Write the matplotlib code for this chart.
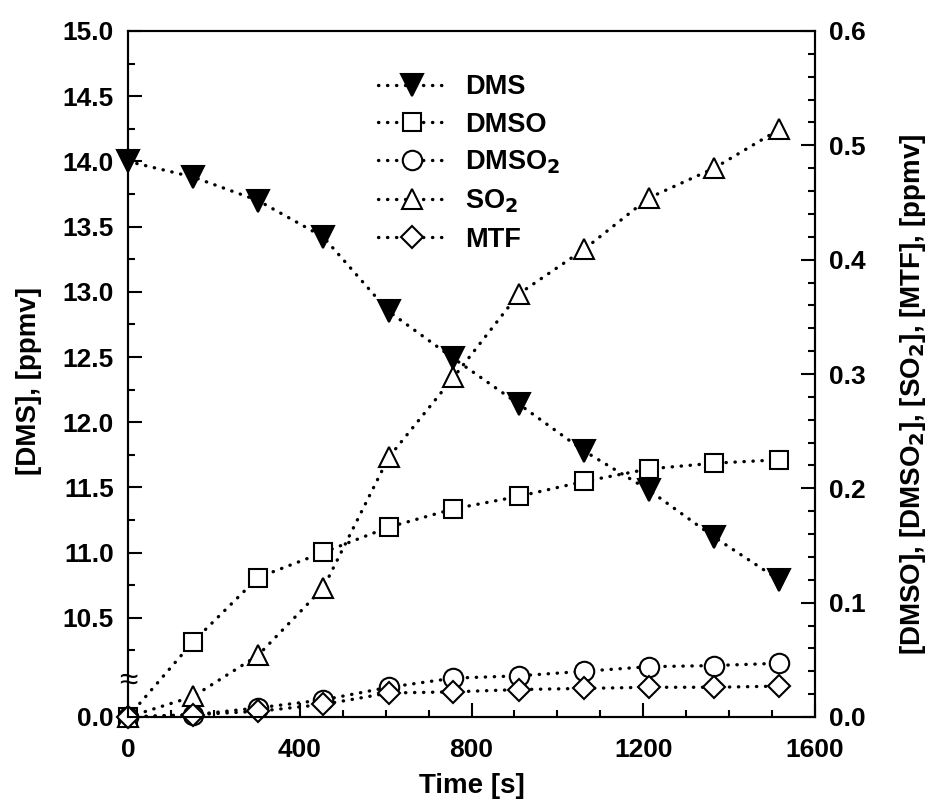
import numpy as np
import matplotlib
matplotlib.use("Agg")
import matplotlib.pyplot as plt

plt.rcParams['font.family'] = ['Liberation Sans', 'DejaVu Sans']
plt.rcParams['font.weight'] = 'bold'
plt.rcParams['mathtext.default'] = 'bf'

# data
time = [0, 152, 303, 455, 607, 758, 910, 1062, 1213, 1365, 1517]
dms = [14.0, 13.88, 13.70, 13.42, 12.85, 12.49, 12.14, 11.78, 11.48, 11.12, 10.79]
dmso = [0.0, 0.066, 0.122, 0.144, 0.166, 0.182, 0.193, 0.206, 0.217, 0.222, 0.225]
dmso2 = [0.0, 0.002, 0.008, 0.015, 0.026, 0.034, 0.036, 0.040, 0.044, 0.045, 0.047]
so2 = [0.0, 0.018, 0.054, 0.113, 0.227, 0.297, 0.370, 0.409, 0.454, 0.480, 0.514]
mtf = [0.0, 0.002, 0.005, 0.011, 0.021, 0.022, 0.024, 0.025, 0.026, 0.026, 0.027]

dms_bottom = 9.74   # left axis is broken: bottom shown as 0.0
left_ticks = [10.5, 11.0, 11.5, 12.0, 12.5, 13.0, 13.5, 14.0, 14.5, 15.0]
left_minor = [10.25, 10.75, 11.25, 11.75, 12.25, 12.75, 13.25, 13.75, 14.25, 14.75]

fig = plt.figure(figsize=(9.36, 8.06), dpi=100)
ax = fig.add_axes([128/936, 89/806, 687/936, 686/806])
ax2 = ax.twinx()

dot = (0, (0.1, 2.6))
common = dict(color='black', lw=2.4, linestyle=dot, dash_capstyle='round',
              markeredgecolor='black', markeredgewidth=1.5, clip_on=False)

l_dms, = ax.plot(time, dms, marker='v', ms=16, markerfacecolor='black', label='DMS', **common)
l_dmso, = ax2.plot(time, dmso, marker='s', ms=13, markerfacecolor='white', label='DMSO', **common)
l_dmso2, = ax2.plot(time, dmso2, marker='o', ms=14, markerfacecolor='white', label='DMSO$_2$', **common)
l_so2, = ax2.plot(time, so2, marker='^', ms=15, markerfacecolor='white', label='SO$_2$', **common)
l_mtf, = ax2.plot(time, mtf, marker='D', ms=11.5, markerfacecolor='white', label='MTF', **common)

ax.set_xlim(0, 1600)
ax.set_ylim(dms_bottom, 15.0)
ax2.set_ylim(0, 0.6)

ax.set_xticks([0, 400, 800, 1200, 1600])
ax.set_xticks(np.arange(0, 1601, 100), minor=True)
ax.set_yticks([dms_bottom] + left_ticks)
ax.set_yticklabels(['0.0'] + ['%.1f' % v for v in left_ticks])
ax.set_yticks(left_minor, minor=True)
ax2.set_yticks(np.arange(0, 0.61, 0.1))
ax2.set_yticklabels(['%.1f' % v for v in np.arange(0, 0.61, 0.1)])
ax2.set_yticks(np.arange(0, 0.61, 0.02), minor=True)

for a in (ax, ax2):
    for s in a.spines.values():
        s.set_linewidth(1.5)
ax.tick_params(axis='both', which='major', direction='in', length=10, width=1.5, labelsize=19)
ax.tick_params(axis='both', which='minor', direction='in', length=5, width=1.5)
ax.tick_params(axis='y', which='both', right=False, pad=10)
ax.tick_params(axis='x', which='both', top=False, pad=15)
ax2.tick_params(axis='y', which='major', direction='in', length=10, width=1.5, labelsize=19, pad=10)
ax2.tick_params(axis='y', which='minor', direction='in', length=5, width=1.5)

# axis break mark on the left spine
ax.text(0, 10.01, '\u2248', transform=ax.get_yaxis_transform(), ha='center', va='center',
        fontsize=24, fontweight='normal')

ax.set_xlabel('Time [s]', fontsize=20, fontweight='bold', labelpad=8)
ax.set_ylabel('[DMS], [ppmv]', fontsize=20, fontweight='bold')
ax.yaxis.set_label_coords(-0.125, 0.49)
ax2.set_ylabel('[DMSO], [DMSO$_2$], [SO$_2$], [MTF], [ppmv]', fontsize=20, fontweight='bold')
ax2.yaxis.set_label_coords(1.121, 0.47)

handles = [l_dms, l_dmso, l_dmso2, l_so2, l_mtf]
ax2.legend(handles=handles, loc='upper left', bbox_to_anchor=(0.364, 0.937), frameon=False,
           fontsize=19.5, handlelength=2.5, handletextpad=0.7, labelspacing=0.42,
           borderpad=0, borderaxespad=0, numpoints=1)

fig.savefig('out.png', dpi=100)
